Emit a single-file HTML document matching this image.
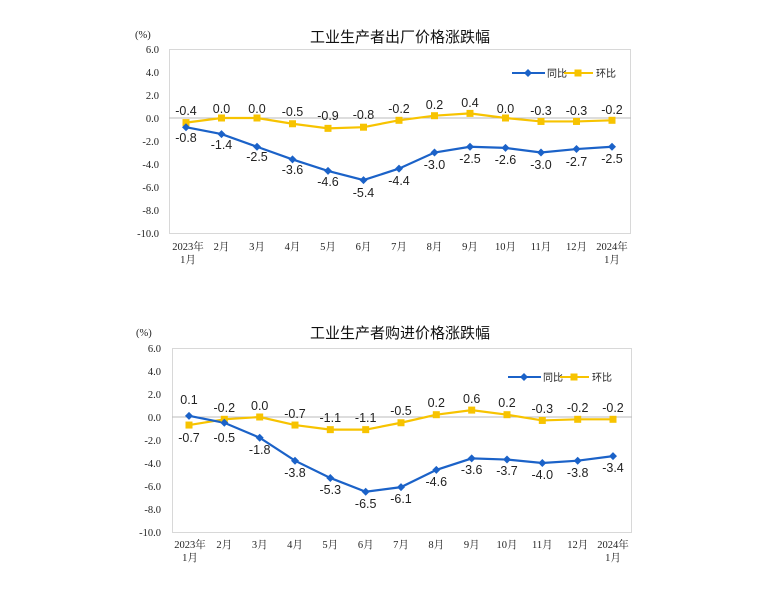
<!DOCTYPE html>
<html><head><meta charset="utf-8"><style>
html,body{margin:0;padding:0;background:#fff;width:778px;height:602px;overflow:hidden}
svg{display:block}
.t{font-family:"Liberation Sans","Noto Sans CJK SC",sans-serif;font-size:15px;fill:#111;text-anchor:middle}
.ax{font-family:"Liberation Serif","Noto Serif CJK SC",serif;font-size:10.5px;fill:#222}
.yl{text-anchor:end}
.xl{text-anchor:middle}
.dl{font-family:"Liberation Sans",sans-serif;font-size:12.5px;fill:#222;text-anchor:middle}
.lg{font-family:"Liberation Sans","Noto Sans CJK SC",sans-serif;font-size:10px;fill:#222}
</style></head><body>
<svg width="778" height="602" viewBox="0 0 778 602">
<defs>
<g id="dm"><path d="M0,-4L4,0L0,4L-4,0Z" fill="#1b62c8"/></g>
<g id="sq"><rect x="-3.5" y="-3.5" width="7" height="7" fill="#f7c300"/></g>
</defs>

<!-- TOP CHART -->
<text class="t" x="400" y="42">工业生产者出厂价格涨跌幅</text>
<text class="ax" x="135" y="38">(%)</text>
<rect x="169.5" y="49.5" width="461" height="184" fill="none" stroke="#d8d8d8"/>
<line x1="169" y1="118" x2="631" y2="118" stroke="#bbb"/>
<g class="ax yl">
<text x="159" y="53">6.0</text><text x="159" y="76">4.0</text><text x="159" y="99">2.0</text><text x="159" y="122">0.0</text><text x="159" y="145">-2.0</text><text x="159" y="168">-4.0</text><text x="159" y="191">-6.0</text><text x="159" y="214">-8.0</text><text x="159" y="237">-10.0</text>
</g>
<g class="ax xl">
<text x="188" y="250">2023年</text><text x="188" y="263">1月</text><text x="221.5" y="250">2月</text><text x="257" y="250">3月</text><text x="292.5" y="250">4月</text><text x="328" y="250">5月</text><text x="363.5" y="250">6月</text><text x="399" y="250">7月</text><text x="434.5" y="250">8月</text><text x="470" y="250">9月</text><text x="505.5" y="250">10月</text><text x="541" y="250">11月</text><text x="576.5" y="250">12月</text><text x="612" y="250">2024年</text><text x="612" y="263">1月</text>
</g>
<polyline fill="none" stroke="#f7c300" stroke-width="2.2" points="186,122.6 221.5,118 257,118 292.5,123.75 328,128.35 363.5,127.2 399,120.3 434.5,115.7 470,113.4 505.5,118 541,121.45 576.5,121.45 612,120.3"/>
<polyline fill="none" stroke="#1b62c8" stroke-width="2.2" points="186,127.2 221.5,134.1 257,146.75 292.5,159.4 328,170.9 363.5,180.1 399,168.6 434.5,152.5 470,146.75 505.5,147.9 541,152.5 576.5,149.05 612,146.75"/>
<use href="#sq" x="186" y="122.6"/><use href="#sq" x="221.5" y="118"/><use href="#sq" x="257" y="118"/><use href="#sq" x="292.5" y="123.75"/><use href="#sq" x="328" y="128.35"/><use href="#sq" x="363.5" y="127.2"/><use href="#sq" x="399" y="120.3"/><use href="#sq" x="434.5" y="115.7"/><use href="#sq" x="470" y="113.4"/><use href="#sq" x="505.5" y="118"/><use href="#sq" x="541" y="121.45"/><use href="#sq" x="576.5" y="121.45"/><use href="#sq" x="612" y="120.3"/>
<use href="#dm" x="186" y="127.2"/><use href="#dm" x="221.5" y="134.1"/><use href="#dm" x="257" y="146.75"/><use href="#dm" x="292.5" y="159.4"/><use href="#dm" x="328" y="170.9"/><use href="#dm" x="363.5" y="180.1"/><use href="#dm" x="399" y="168.6"/><use href="#dm" x="434.5" y="152.5"/><use href="#dm" x="470" y="146.75"/><use href="#dm" x="505.5" y="147.9"/><use href="#dm" x="541" y="152.5"/><use href="#dm" x="576.5" y="149.05"/><use href="#dm" x="612" y="146.75"/>
<g class="dl">
<text x="186" y="115">-0.4</text><text x="221.5" y="113">0.0</text><text x="257" y="113">0.0</text><text x="292.5" y="116">-0.5</text><text x="328" y="120">-0.9</text><text x="363.5" y="119">-0.8</text><text x="399" y="113">-0.2</text><text x="434.5" y="109">0.2</text><text x="470" y="107">0.4</text><text x="505.5" y="113">0.0</text><text x="541" y="115">-0.3</text><text x="576.5" y="115">-0.3</text><text x="612" y="114">-0.2</text>
<text x="186" y="142">-0.8</text><text x="221.5" y="149">-1.4</text><text x="257" y="161">-2.5</text><text x="292.5" y="174">-3.6</text><text x="328" y="186">-4.6</text><text x="363.5" y="197">-5.4</text><text x="399" y="185">-4.4</text><text x="434.5" y="169">-3.0</text><text x="470" y="163">-2.5</text><text x="505.5" y="164">-2.6</text><text x="541" y="169">-3.0</text><text x="576.5" y="166">-2.7</text><text x="612" y="163">-2.5</text>
</g>
<line x1="512" y1="73" x2="545" y2="73" stroke="#1b62c8" stroke-width="2"/><use href="#dm" x="528" y="73"/>
<text class="lg" x="547" y="77">同比</text>
<line x1="564" y1="73" x2="593" y2="73" stroke="#f7c300" stroke-width="2"/><use href="#sq" x="578" y="73"/>
<text class="lg" x="596" y="77">环比</text>

<!-- BOTTOM CHART -->
<text class="t" x="400" y="338">工业生产者购进价格涨跌幅</text>
<text class="ax" x="136" y="336">(%)</text>
<rect x="172.5" y="348.5" width="459" height="184" fill="none" stroke="#d8d8d8"/>
<line x1="172" y1="417" x2="632" y2="417" stroke="#bbb"/>
<g class="ax yl">
<text x="161" y="352">6.0</text><text x="161" y="375">4.0</text><text x="161" y="398">2.0</text><text x="161" y="421">0.0</text><text x="161" y="444">-2.0</text><text x="161" y="467">-4.0</text><text x="161" y="490">-6.0</text><text x="161" y="513">-8.0</text><text x="161" y="536">-10.0</text>
</g>
<g class="ax xl">
<text x="190" y="548">2023年</text><text x="190" y="561">1月</text><text x="224.3" y="548">2月</text><text x="259.7" y="548">3月</text><text x="295" y="548">4月</text><text x="330.3" y="548">5月</text><text x="365.7" y="548">6月</text><text x="401" y="548">7月</text><text x="436.3" y="548">8月</text><text x="471.7" y="548">9月</text><text x="507" y="548">10月</text><text x="542.3" y="548">11月</text><text x="577.7" y="548">12月</text><text x="613" y="548">2024年</text><text x="613" y="561">1月</text>
</g>
<polyline fill="none" stroke="#f7c300" stroke-width="2.2" points="189,425.05 224.3,419.3 259.7,417 295,425.05 330.3,429.65 365.7,429.65 401,422.75 436.3,414.7 471.7,410.1 507,414.7 542.3,420.45 577.7,419.3 613,419.3"/>
<polyline fill="none" stroke="#1b62c8" stroke-width="2.2" points="189,415.85 224.3,422.75 259.7,437.7 295,460.7 330.3,477.95 365.7,491.75 401,487.15 436.3,469.9 471.7,458.4 507,459.55 542.3,463 577.7,460.7 613,456.1"/>
<use href="#sq" x="189" y="425.05"/><use href="#sq" x="224.3" y="419.3"/><use href="#sq" x="259.7" y="417"/><use href="#sq" x="295" y="425.05"/><use href="#sq" x="330.3" y="429.65"/><use href="#sq" x="365.7" y="429.65"/><use href="#sq" x="401" y="422.75"/><use href="#sq" x="436.3" y="414.7"/><use href="#sq" x="471.7" y="410.1"/><use href="#sq" x="507" y="414.7"/><use href="#sq" x="542.3" y="420.45"/><use href="#sq" x="577.7" y="419.3"/><use href="#sq" x="613" y="419.3"/>
<use href="#dm" x="189" y="415.85"/><use href="#dm" x="224.3" y="422.75"/><use href="#dm" x="259.7" y="437.7"/><use href="#dm" x="295" y="460.7"/><use href="#dm" x="330.3" y="477.95"/><use href="#dm" x="365.7" y="491.75"/><use href="#dm" x="401" y="487.15"/><use href="#dm" x="436.3" y="469.9"/><use href="#dm" x="471.7" y="458.4"/><use href="#dm" x="507" y="459.55"/><use href="#dm" x="542.3" y="463"/><use href="#dm" x="577.7" y="460.7"/><use href="#dm" x="613" y="456.1"/>
<g class="dl">
<text x="189" y="404">0.1</text><text x="189" y="442">-0.7</text>
<text x="224.3" y="412">-0.2</text><text x="259.7" y="410">0.0</text><text x="295" y="418">-0.7</text><text x="330.3" y="422">-1.1</text><text x="365.7" y="422">-1.1</text><text x="401" y="415">-0.5</text><text x="436.3" y="407">0.2</text><text x="471.7" y="403">0.6</text><text x="507" y="407">0.2</text><text x="542.3" y="413">-0.3</text><text x="577.7" y="412">-0.2</text><text x="613" y="412">-0.2</text>
<text x="224.3" y="442">-0.5</text><text x="259.7" y="454">-1.8</text><text x="295" y="477">-3.8</text><text x="330.3" y="494">-5.3</text><text x="365.7" y="508">-6.5</text><text x="401" y="503">-6.1</text><text x="436.3" y="486">-4.6</text><text x="471.7" y="474">-3.6</text><text x="507" y="475">-3.7</text><text x="542.3" y="479">-4.0</text><text x="577.7" y="477">-3.8</text><text x="613" y="472">-3.4</text>
</g>
<line x1="508" y1="377" x2="541" y2="377" stroke="#1b62c8" stroke-width="2"/><use href="#dm" x="524" y="377"/>
<text class="lg" x="543" y="381">同比</text>
<line x1="560" y1="377" x2="589" y2="377" stroke="#f7c300" stroke-width="2"/><use href="#sq" x="574" y="377"/>
<text class="lg" x="592" y="381">环比</text>
</svg>
</body></html>
